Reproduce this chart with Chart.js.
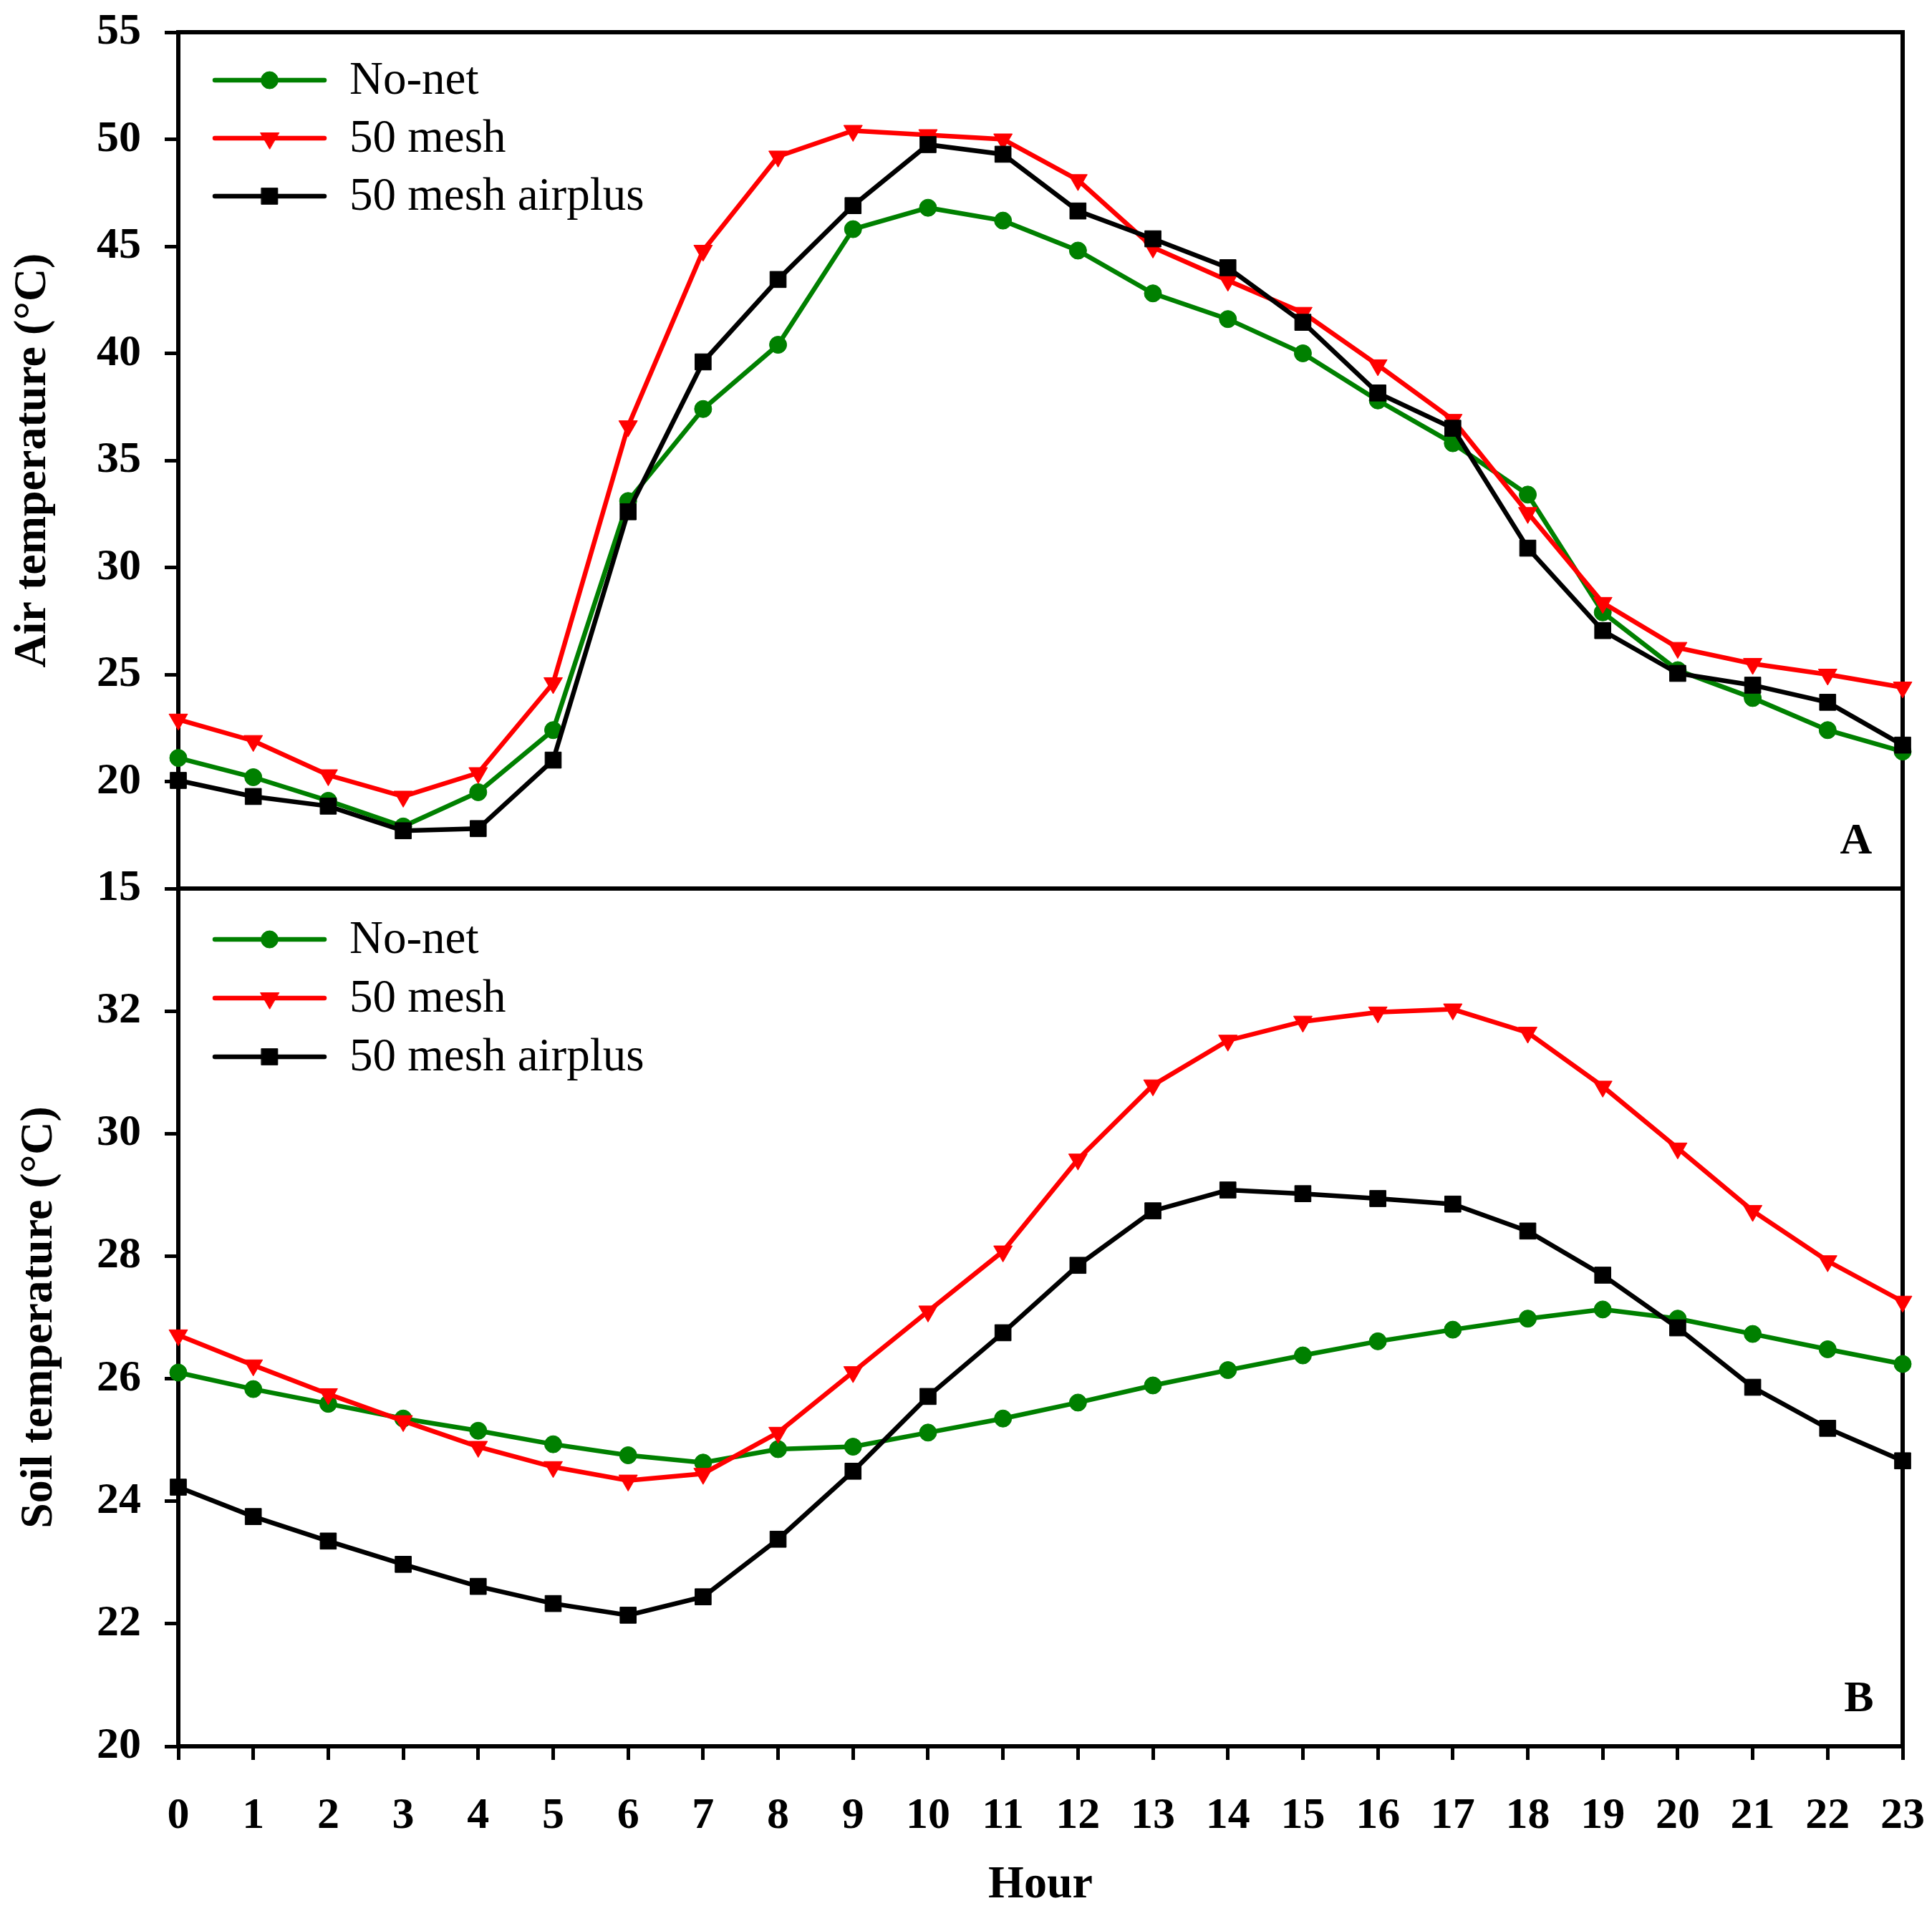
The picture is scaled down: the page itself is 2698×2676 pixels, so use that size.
<!DOCTYPE html>
<html>
<head>
<meta charset="utf-8">
<title>Air and soil temperature</title>
<script src="https://cdn.jsdelivr.net/npm/chart.js@4.4.1/dist/chart.umd.min.js"></script>
<style>
    html, body { margin: 0; padding: 0; background: #ffffff; overflow: hidden; }
    #wrap { position: relative; width: 2698px; height: 2676px; }
    #wrap canvas { position: absolute; left: 0; top: 0; }
</style>
</head>
<body>
<div id="wrap">
    <canvas id="airChart" width="2698" height="2676"></canvas>
    <canvas id="soilChart" width="2698" height="2676"></canvas>
</div>

<script>
/* =====================================
   Data
===================================== */
const hours = ["0", "1", "2", "3", "4", "5", "6", "7", "8", "9", "10", "11",
               "12", "13", "14", "15", "16", "17", "18", "19", "20", "21", "22", "23"];

const seriesNames = ["No-net", "50 mesh", "50 mesh airplus"];

const airNoNet   = [21.1, 20.2, 19.1, 17.9, 19.5, 22.4, 33.1, 37.4, 40.4, 45.8, 46.8, 46.2,
                    44.8, 42.8, 41.6, 40.0, 37.8, 35.8, 33.4, 27.9, 25.2, 23.9, 22.4, 21.4];
const airMesh    = [22.9, 21.9, 20.3, 19.3, 20.4, 24.6, 36.6, 44.8, 49.2, 50.4, 50.2, 50.0,
                    48.1, 44.95, 43.4, 41.9, 39.45, 36.9, 32.55, 28.35, 26.25, 25.5, 25.0, 24.4];
const airAirplus = [20.05, 19.3, 18.85, 17.7, 17.8, 21.0, 32.6, 39.6, 43.45, 46.9, 49.75, 49.3,
                    46.65, 45.35, 44.0, 41.45, 38.15, 36.5, 30.9, 27.05, 25.05, 24.5, 23.7, 21.7];

const soilNoNet   = [26.1, 25.83, 25.59, 25.35, 25.15, 24.93, 24.75, 24.63, 24.85, 24.89, 25.12, 25.35,
                     25.61, 25.89, 26.14, 26.38, 26.61, 26.8, 26.98, 27.13, 26.98, 26.73, 26.48, 26.24];
const soilMesh    = [26.71, 26.22, 25.75, 25.31, 24.89, 24.56, 24.34, 24.45, 25.12, 26.11, 27.1, 28.08,
                     29.58, 30.79, 31.52, 31.83, 31.98, 32.03, 31.65, 30.77, 29.76, 28.74, 27.92, 27.26];
const soilAirplus = [24.23, 23.75, 23.35, 22.97, 22.61, 22.33, 22.14, 22.44, 23.38, 24.49, 25.71, 26.75,
                     27.85, 28.74, 29.08, 29.02, 28.94, 28.85, 28.41, 27.69, 26.83, 25.86, 25.19, 24.66];

const airTicks  = [15, 55, 5];   // min, max, step
const soilTicks = [20, 34, 2];


/* =====================================
   Shared styles
===================================== */
const FONT = '"Liberation Serif", "Times New Roman", serif';
const W = 2698, H = 2676;
const PLOT_LEFT = 249, PLOT_RIGHT = 2657;
const AIR_TOP = 45, MID = 1241, SOIL_BOTTOM = 2439;

function makeDatasets(noNet, mesh, airplus) {
    return [
        {
            label: seriesNames[0], data: noNet, order: 2,
            borderColor: "#008000", backgroundColor: "#008000",
            pointBackgroundColor: "#008000", pointBorderColor: "#008000",
            pointStyle: "circle", pointRadius: 12, pointRotation: 0
        },
        {
            label: seriesNames[1], data: mesh, order: 1,
            borderColor: "#ff0000", backgroundColor: "#ff0000",
            pointBackgroundColor: "#ff0000", pointBorderColor: "#ff0000",
            pointStyle: "triangle", pointRadius: 15, pointRotation: 180
        },
        {
            label: seriesNames[2], data: airplus, order: 0,
            borderColor: "#000000", backgroundColor: "#000000",
            pointBackgroundColor: "#000000", pointBorderColor: "#000000",
            pointStyle: "rect", pointRadius: 16, pointRotation: 0
        }
    ].map(ds => Object.assign(ds, {
        borderWidth: 6.5, pointBorderWidth: 1, tension: 0, clip: false, fill: false
    }));
}


/* =====================================
   Plugins: frame box + inside legend
===================================== */
const framePlugin = {
    id: "frame",
    beforeDatasetsDraw(chart) {
        const a = chart.chartArea, ctx = chart.ctx;
        ctx.save();
        ctx.strokeStyle = "#000";
        ctx.lineWidth = 6;
        ctx.strokeRect(a.left, a.top, a.right - a.left, a.bottom - a.top);
        ctx.restore();
    }
};

const insideLegend = {
    id: "insideLegend",
    afterDatasetsDraw(chart, args, opts) {
        const ctx = chart.ctx, a = chart.chartArea;
        ctx.save();
        chart.data.datasets.forEach((ds, i) => {
            let y = a.top + opts.top + i * opts.gap;
            let x0 = a.left + 51, x1 = a.left + 204;
            ctx.strokeStyle = ds.borderColor;
            ctx.lineWidth = ds.borderWidth;
            ctx.lineCap = "round";
            ctx.beginPath();
            ctx.moveTo(x0, y);
            ctx.lineTo(x1, y);
            ctx.stroke();
            ctx.fillStyle = ds.pointBackgroundColor;
            ctx.strokeStyle = ds.pointBorderColor;
            ctx.lineWidth = 1;
            Chart.helpers.drawPoint(ctx, {
                pointStyle: ds.pointStyle, radius: ds.pointRadius,
                rotation: ds.pointRotation, borderWidth: 1
            }, (x0 + x1) / 2, y);
            ctx.fillStyle = "#000";
            ctx.font = "65px " + FONT;
            ctx.textAlign = "left";
            ctx.textBaseline = "middle";
            ctx.fillText(ds.label, a.left + 239, y + 2);
        });
        // panel letter
        ctx.fillStyle = "#000";
        ctx.font = "bold 62px " + FONT;
        ctx.textAlign = "center";
        ctx.textBaseline = "middle";
        ctx.fillText(opts.letter, a.right - opts.letterDx, a.bottom - 65);
        ctx.restore();
    }
};


/* =====================================
   Axis helpers
===================================== */
function yAxis(range, title, titlePad, hideTop) {
    return {
        min: range[0], max: range[1],
        ticks: {
            stepSize: range[2], padding: 33, color: "#000",
            font: { family: FONT, size: 62, weight: "bold" },
            callback: v => (hideTop && v === range[1]) ? "" : v
        },
        grid: { drawOnChartArea: false, drawTicks: true, tickLength: 19, lineWidth: 5, color: "#000" },
        border: { display: false },
        title: {
            display: true, text: title, color: "#000",
            font: { family: FONT, size: 64, weight: "bold" },
            padding: { top: titlePad, bottom: 0 }
        },
        afterFit: scale => {
            scale.width = PLOT_LEFT;
            scale.paddingTop = 0;
            scale.paddingBottom = 0;
        }
    };
}

function buildChart(canvasId, cfg) {
    return new Chart(document.getElementById(canvasId), {
        type: "line",
        data: { labels: hours, datasets: cfg.datasets },
        options: {
            responsive: false,
            devicePixelRatio: 1,
            animation: false,
            events: [],
            layout: { padding: cfg.padding },
            scales: { x: cfg.x, y: cfg.y },
            plugins: {
                legend: { display: false },
                tooltip: { enabled: false },
                insideLegend: cfg.legend
            }
        },
        plugins: [framePlugin, insideLegend]
    });
}


/* =====================================
   Panel A - Air temperature
===================================== */
buildChart("airChart", {
    datasets: makeDatasets(airNoNet, airMesh, airAirplus),
    padding: { left: 0, top: AIR_TOP, right: W - PLOT_RIGHT, bottom: H - MID },
    x: { display: false },
    y: yAxis(airTicks, "Air temperature (\u00B0C)", 8, false),
    legend: { top: 67, gap: 81, letter: "A", letterDx: 65 }
});


/* =====================================
   Panel B - Soil temperature
===================================== */
buildChart("soilChart", {
    datasets: makeDatasets(soilNoNet, soilMesh, soilAirplus),
    padding: { left: 0, top: MID, right: W - PLOT_RIGHT, bottom: 0 },
    x: {
        ticks: {
            autoSkip: false, maxRotation: 0, padding: 42, color: "#000",
            font: { family: FONT, size: 62, weight: "bold" }
        },
        grid: { drawOnChartArea: false, drawTicks: true, tickLength: 19, lineWidth: 5, color: "#000" },
        border: { display: false },
        title: {
            display: true, text: "Hour", color: "#000",
            font: { family: FONT, size: 64, weight: "bold" },
            padding: { top: 0, bottom: 4 }
        },
        afterFit: scale => {
            scale.height = H - SOIL_BOTTOM;
            scale.paddingLeft = 0;
            scale.paddingRight = 0;
        }
    },
    y: yAxis(soilTicks, "Soil temperature (\u00B0C)", 17, true),
    legend: { top: 71, gap: 82, letter: "B", letterDx: 61 }
});
</script>
</body>
</html>
